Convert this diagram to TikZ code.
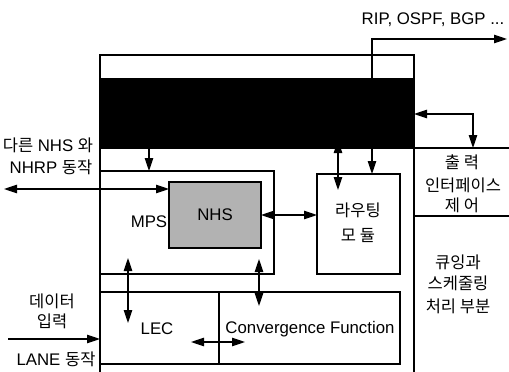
\documentclass[tikz,border=0pt]{standalone}
\usepackage{fontspec}
\setmainfont{Liberation Sans}
\newfontfamily\kr{Noto Sans CJK KR}
\newcommand{\krs}{\kr\fontsize{16.5}{19}\selectfont}
\usetikzlibrary{arrows.meta,calc}
\begin{document}
\begin{tikzpicture}[x=1pt,y=-1pt,line width=1.1pt,
  box/.style={draw,inner sep=0pt,outer sep=0pt,line width=1.1pt},
  ar/.style={-{Triangle[length=13pt,width=8.5pt]}},
  dar/.style={{Triangle[length=13pt,width=8.5pt]}-{Triangle[length=13pt,width=8.5pt]}},
  lbl/.style={inner sep=0pt,font=\fontsize{16.8}{19}\selectfont},
  klbl/.style={inner sep=0pt,font=\krs},
]
\useasboundingbox (0,0) rectangle (509,372);
% outer frame (open at the bottom)
\coordinate (obl) at (100,372);
\coordinate (otl) at (100,55);
\coordinate (otr) at (414,55);
\coordinate (obr) at (414,372);
\draw (obl) -- (otl) -- (otr) -- (obr);
% boxes
\node[box,minimum width=174pt,minimum height=103pt] (mps) at (187,222.5) {};
\node[box,fill=gray!60,minimum width=92pt,minimum height=66pt] (nhs) at (215,215) {};
\node[box,minimum width=83pt,minimum height=100pt] (route) at (358.5,224) {};
\node[box,minimum width=119pt,minimum height=72pt] (lec) at (159.5,328) {};
\node[box,minimum width=181pt,minimum height=72pt] (cf) at (309.5,328) {};
% helper coordinates
\coordinate (x149) at (149,0);
\coordinate (x372) at (372,0);
\coordinate (x473) at (473,0);
\coordinate (y114) at (0,114);
\coordinate (rta) at (338,140);
\coordinate (rtb) at (338,190);
\coordinate (nhrp) at (4,189);
\coordinate (ripend) at (507,39);
\coordinate (m1a) at (128,258);
\coordinate (m1b) at (128,323);
\coordinate (m2a) at (259,259);
\coordinate (m2b) at (259,306);
\coordinate (h1a) at (191,342);
\coordinate (h1b) at (245,342);
\coordinate (din) at (8,339);
% connectors hidden partly behind the black block
\draw[dar] (rta) -- (rtb);
\draw[dar] (ripend) -- (ripend -| x372) -- (route.north -| x372);
% black block
\node[box,fill=black,minimum width=314pt,minimum height=69pt] (black) at (257,113.5) {};
% right side separators
\coordinate (r1) at (509,148);
\coordinate (r2a) at (414,216);
\coordinate (r2b) at (509,216);
\draw (black.south east) -- (r1);
\draw (r2a) -- (r2b);
% texts
\node[lbl] (rip) at (433,20) {RIP, OSPF, BGP ...};
\node[lbl] (t1) at (48,145) {{\krs 다른} NHS {\krs 와}};
\node[lbl] (t2) at (51,167) {NHRP {\krs 동작}};
\node[lbl] (tmps) at (149,222) {MPS};
\node[lbl] (tnhs) at (215,215) {NHS};
\node[klbl] (tr1) at (358,210) {라우팅};
\node[klbl] (tr2) at (358,235) {모 듈};
\node[lbl] (tlec) at (157,329) {LEC};
\node[lbl] (tcf) at (310,329) {Convergence Function};
\node[klbl] (d1) at (52,301) {데이터};
\node[klbl] (d2) at (52,321) {입력};
\node[lbl] (d3) at (56,359) {LANE {\krs 동작}};
\node[klbl] (o1) at (462,162) {출 력};
\node[klbl] (o2) at (463,185) {인터페이스};
\node[klbl] (o3) at (462,205) {제 어};
\node[klbl] (q1) at (458,262) {큐잉과};
\node[klbl] (q2) at (458,283) {스케줄링};
\node[klbl] (q3) at (458,306) {처리 부분};
% connectors
\draw[ar] (black.south -| x149) -- (mps.north -| x149);
\draw[dar] (nhrp) -- (nhs.west |- nhrp);
\draw[dar] (nhs.east) -- (route.west |- nhs.east);
\draw[dar] (black.east |- y114) -- (x473 |- y114) -- (x473 |- black.south);
\draw[dar] (m1a) -- (m1b);
\draw[dar] (m2a) -- (m2b);
\draw[dar] (h1a) -- (h1b);
\draw[ar] (din) -- (din -| lec.west);
\end{tikzpicture}
\end{document}
